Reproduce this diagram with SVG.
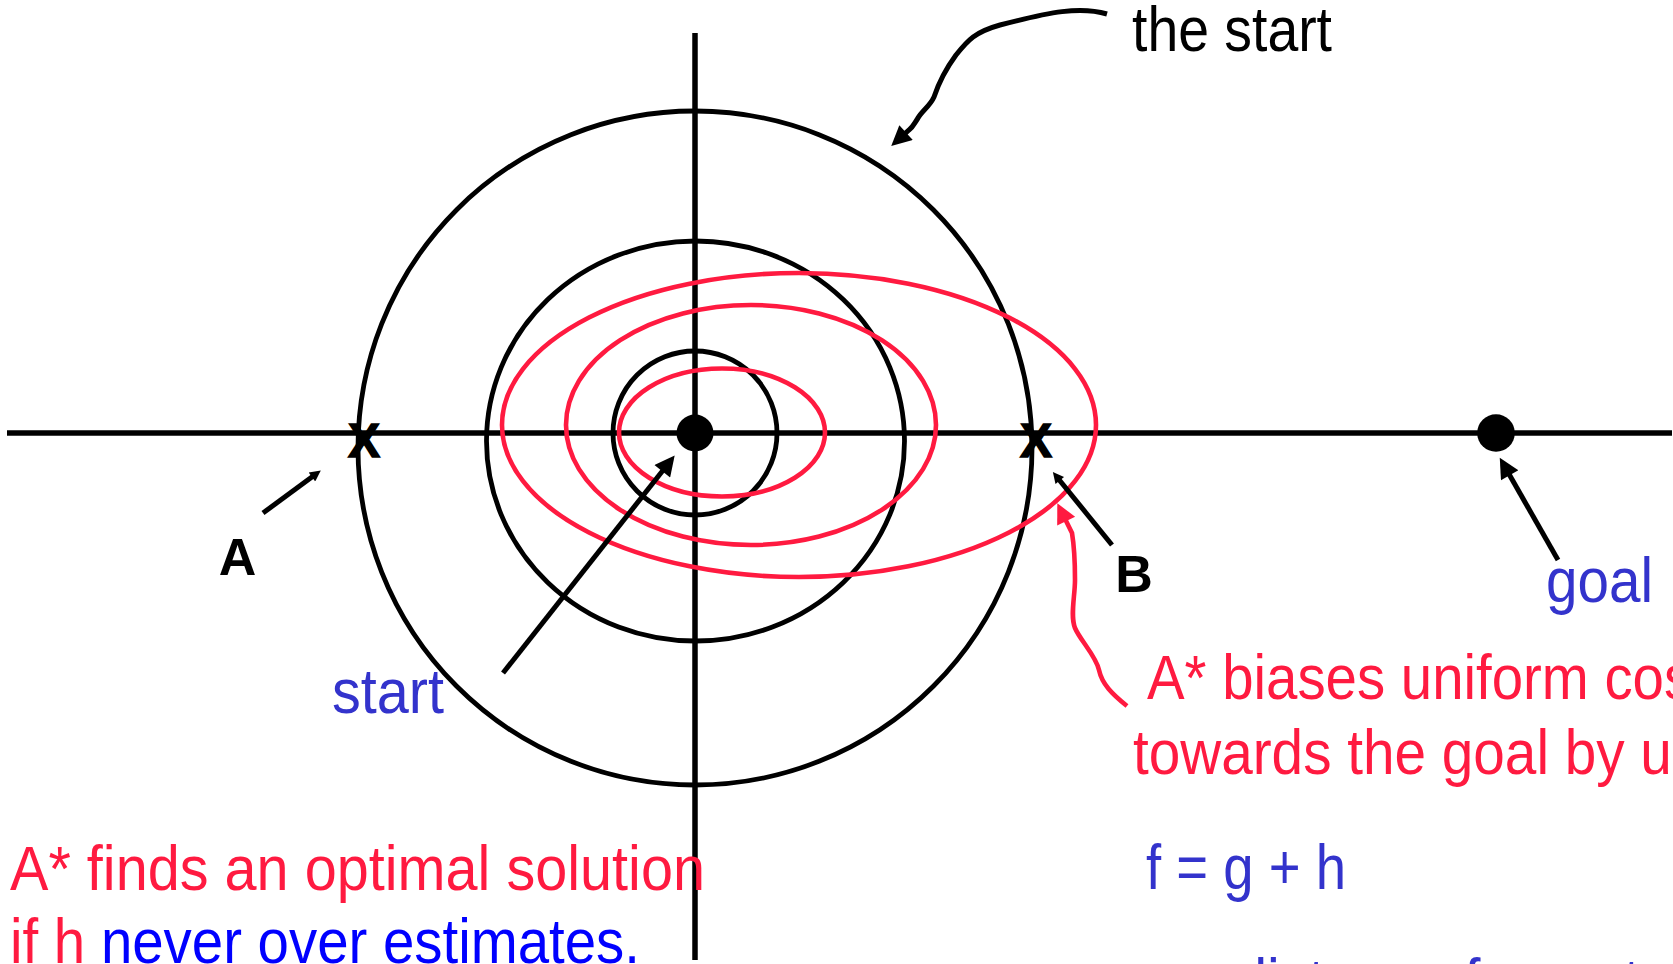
<svg xmlns="http://www.w3.org/2000/svg" width="1673" height="964" viewBox="0 0 1673 964">
<style>
.ax{stroke:#000;stroke-width:5.5;fill:none}
.bk{stroke:#000;stroke-width:4.8;fill:none}
.rd{stroke:#FF1A40;stroke-width:4.6;fill:none}
.ln{stroke:#000;stroke-width:5;fill:none}
.t{font-family:"Liberation Sans",Arial,sans-serif;font-size:63px}
.red{fill:#FF1A40}
.blu{fill:#3333CC}
.pb{fill:#0000FF}
.bold{font-family:"Liberation Sans",Arial,sans-serif;font-weight:bold;fill:#000}
.xm{font-family:"Liberation Sans",Arial,sans-serif;font-weight:bold;fill:#000;stroke:#000;stroke-width:1.5}
</style>
<defs>
<marker id="ahBig" viewBox="0 0 10 10" refX="3" refY="5" markerWidth="30" markerHeight="20" markerUnits="userSpaceOnUse" orient="auto"><path d="M0,0 L10,5 L0,10 z" fill="#000"/></marker>
<marker id="ahThin" viewBox="0 0 10 10" refX="3" refY="5" markerWidth="22" markerHeight="11" markerUnits="userSpaceOnUse" orient="auto"><path d="M0,0 L10,5 L0,10 z" fill="#000"/></marker>
<marker id="ahRed" viewBox="0 0 10 10" refX="3" refY="5" markerWidth="27" markerHeight="20" markerUnits="userSpaceOnUse" orient="auto"><path d="M0,0 L10,5 L0,10 z" fill="#FF1A40"/></marker>
</defs>
<rect width="1673" height="964" fill="#fff"/>
<g id="axes">
<line class="ax" x1="7" y1="433" x2="1672" y2="433"/>
<line class="ax" x1="695" y1="33" x2="695" y2="960"/>
</g>
<g id="contours-uniform">
<circle class="bk" cx="695" cy="448" r="337"/>
<ellipse class="bk" cx="695.5" cy="441" rx="209" ry="200"/>
<circle class="bk" cx="695" cy="433" r="82"/>
</g>
<g id="contours-astar">
<ellipse class="rd" cx="799" cy="425" rx="297" ry="152"/>
<ellipse class="rd" cx="751" cy="425" rx="185" ry="120"/>
<ellipse class="rd" cx="722" cy="432.5" rx="103" ry="64"/>
</g>
<g id="start-node"><circle cx="695" cy="433" r="18.5" fill="#000"/></g>
<g id="goal-node"><circle cx="1496" cy="433" r="18.8" fill="#000"/></g>
<g id="mark-A"><text class="xm" x="364" y="457" font-size="48" text-anchor="middle">X</text></g>
<g id="mark-B"><text class="xm" x="1036" y="457" font-size="48" text-anchor="middle">X</text></g>
<g id="connectors">
<line class="ln" x1="503" y1="673" x2="666" y2="466.5" marker-end="url(#ahBig)"/>
<line class="ln" x1="1558" y1="560" x2="1506.7" y2="470" marker-end="url(#ahBig)"/>
<line class="ln" x1="263" y1="513" x2="314.6" y2="475.1" marker-end="url(#ahThin)"/>
<line class="ln" x1="1112" y1="545" x2="1057.7" y2="478" marker-end="url(#ahThin)"/>
<path class="ln" d="M1107,14 C1080,6 1050,12 1000,25 C975,32 968,40 956,55 C945,70 938,85 934,97 C930,106 922,111 918,118 C914,124 913,127 909,130 L901.6,136.7" marker-end="url(#ahBig)"/>
<path class="rd" d="M1127,706 C1112,694 1102,684 1099,670 C1096,656 1080,640 1075,628 C1070,616 1075,596 1075,580 C1075,560 1074,545 1072,533 L1063.5,515.8" marker-end="url(#ahRed)"/>
</g>
<g id="labels">
<text class="t" x="1132" y="51" font-size="61" textLength="200" lengthAdjust="spacingAndGlyphs" fill="#000">the start</text>
<text class="t blu" x="1546" y="602" font-size="66" textLength="107" lengthAdjust="spacingAndGlyphs">goal</text>
<text class="t blu" x="332" y="713" textLength="112" lengthAdjust="spacingAndGlyphs">start</text>
<text class="bold" x="237.5" y="575" font-size="52" text-anchor="middle">A</text>
<text class="bold" x="1134" y="592" font-size="52" text-anchor="middle">B</text>
<text class="t red" transform="translate(1147,699) scale(0.895,1)">A* biases uniform cost</text>
<text class="t red" transform="translate(1133,774) scale(0.9,1)">towards the goal by using</text>
<text class="t blu" x="1146" y="889" textLength="200" lengthAdjust="spacingAndGlyphs">f = g + h</text>
<text class="t blu" transform="translate(1138,1003) scale(0.91,1)">g = distance from start</text>
<text class="t red" x="10" y="890" textLength="695" lengthAdjust="spacingAndGlyphs">A* finds an optimal solution</text>
<text class="t" x="10" y="963" textLength="630" lengthAdjust="spacingAndGlyphs"><tspan class="red">if h </tspan><tspan class="pb">never over estimates.</tspan></text>
</g>
</svg>
